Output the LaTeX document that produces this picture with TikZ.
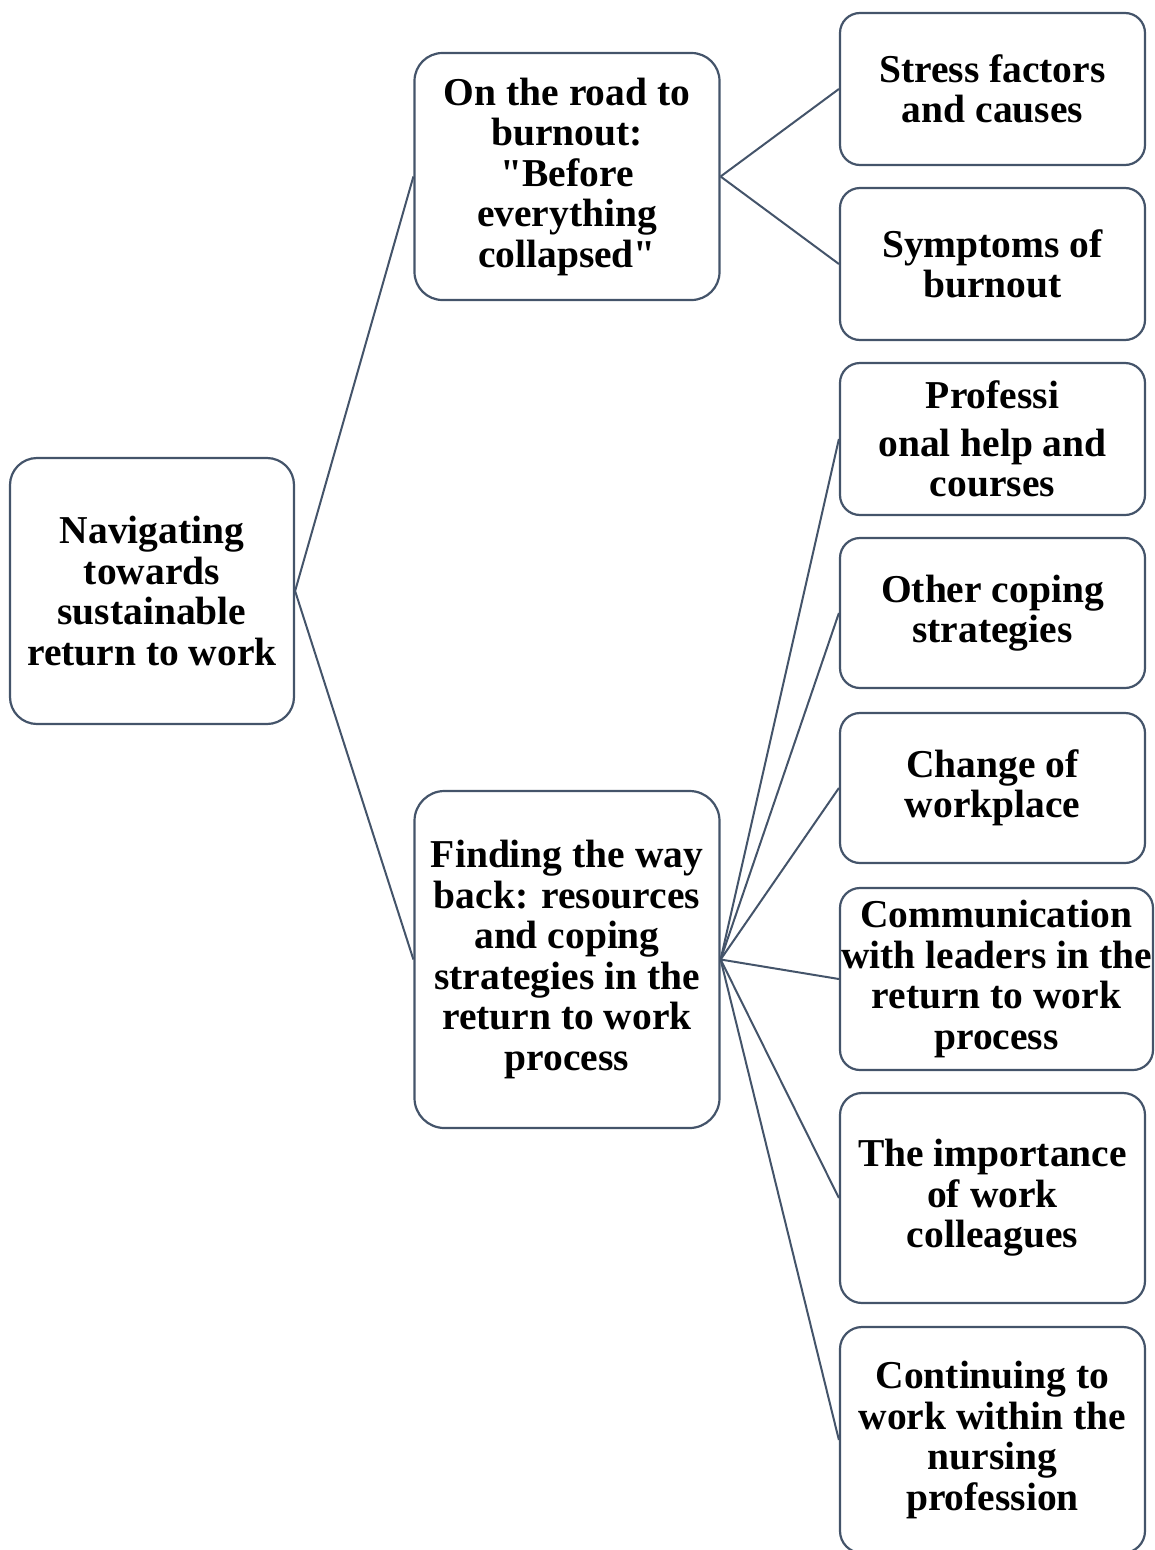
\documentclass[tikz,border=0pt]{standalone}
\usepackage{fontspec}
\setmainfont{Liberation Serif}[Ligatures=TeXOff]
\definecolor{edgecol}{HTML}{44546A}
\begin{document}
\begin{tikzpicture}[x=1pt,y=-1pt,
  box/.style={draw=edgecol, line width=2.2pt, rounded corners=#1, align=center,
    inner sep=0pt, fill=white, text=black,
    font=\bfseries\fontsize{39.5}{40.5}\selectfont},
  link/.style={draw=edgecol, line width=2pt}]
\useasboundingbox (0,0) rectangle (1155,1550);
% level 0
\node[box=27pt, minimum width=284pt, minimum height=266pt] (root) at (152,591)
  {Navigating\\towards\\sustainable\\return to work};
% level 1
\node[box=28pt, minimum width=305pt, minimum height=247pt] (mid1) at (567,176.5)
  {On the road to\\burnout:\\"Before\\everything\\collapsed"};
\node[box=30pt, minimum width=305pt, minimum height=337pt] (mid2) at (567,959.5)
  {Finding the way\\back: resources\\and coping\\strategies in the\\return to work\\process};
% level 2
\node[box=20pt, minimum width=305pt, minimum height=152pt] (stress) at (992.5,89)
  {Stress factors\\and causes};
\node[box=20pt, minimum width=305pt, minimum height=152pt] (sympt) at (992.5,264)
  {Symptoms of\\burnout};
\node[box=20pt, minimum width=305pt, minimum height=152pt] (prof) at (992.5,439)
  {Professi\\[7pt]onal help and\\courses};
\node[box=20pt, minimum width=305pt, minimum height=150pt] (other) at (992.5,613)
  {Other coping\\strategies};
\node[box=20pt, minimum width=305pt, minimum height=150pt] (change) at (992.5,788)
  {Change of\\workplace};
\node[box=20pt, minimum width=313pt, minimum height=182pt] (comm) at (996.5,979)
  {Communication\\with leaders in the\\return to work\\process};
\node[box=22pt, minimum width=305pt, minimum height=210pt] (import) at (992.5,1198)
  {The importance\\of work\\colleagues};
\node[box=22pt, minimum width=305pt, minimum height=226pt] (cont) at (992.5,1440)
  {Continuing to\\work within the\\nursing\\profession};
% connectors
\draw[link] (root.east) -- (mid1.west);
\draw[link] (root.east) -- (mid2.west);
\draw[link] (mid1.east) -- (stress.west);
\draw[link] (mid1.east) -- (sympt.west);
\foreach \t in {prof,other,change,comm,import,cont}
  \draw[link] (mid2.east) -- (\t.west);
\end{tikzpicture}
\end{document}
